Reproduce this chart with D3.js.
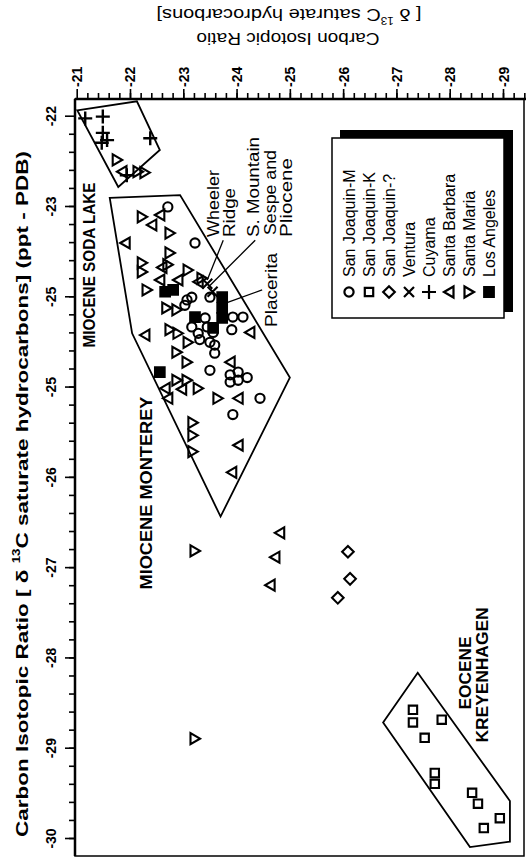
<!DOCTYPE html>
<html lang="en">
<head>
<meta charset="UTF-8">
<title>Carbon Isotopic Ratio</title>
<script src="https://cdnjs.cloudflare.com/ajax/libs/d3/7.8.5/d3.min.js"></script>
<style>
body{margin:0;background:#fff;}
svg{display:block;font-family:"Liberation Sans",Arial,Helvetica,sans-serif;}
.tick text{font-size:14px;font-weight:bold;fill:#000;}
.tick line{stroke:#000;stroke-width:1.6;}
</style>
</head>
<body>
<div id="chart"></div>
<script>
// axis ticks (left axis keeps the original's duplicated "-25")
var leftTicks = [-22,-23,-24,-25,-26,-27,-28,-29,-30];
var leftTickLabels = ['-22','-23','-25','-25','-26','-27','-28','-29','-30'];
var topTicks = [-21,-22,-23,-24,-25,-26,-27,-28,-29];
var topTickLabels = ['-21','-22','-23','-24','-25','-26','-27','-28','-29'];

// points: [left axis value, top axis value]
var sanJoaquinM = [[-23.01,-22.71],[-23.41,-23.22],[-24.04,-23.07],[-24.01,-23.16],[-24.01,-23.50],
  [-24.10,-23.03],[-24.24,-23.41],[-24.34,-23.45],[-24.34,-23.16],[-24.41,-23.28],[-24.23,-23.93],
  [-24.23,-24.12],[-24.37,-23.91],[-24.48,-23.31],[-24.51,-23.50],[-24.40,-23.56],[-24.54,-23.59],
  [-24.63,-23.59],[-24.82,-23.50],[-24.87,-23.88],[-24.84,-24.03],[-24.95,-23.88],[-24.93,-24.03],
  [-24.90,-24.20],[-25.13,-24.44],[-25.31,-23.93]];
var sanJoaquinK = [[-28.58,-27.31],[-28.72,-27.31],[-28.69,-27.85],[-28.89,-27.53],[-29.28,-27.72],
  [-29.40,-27.72],[-29.50,-28.42],[-29.62,-28.53],[-29.78,-28.94],[-29.89,-28.64]];
var sanJoaquinQ = [[-26.83,-26.09],[-27.13,-26.13],[-27.34,-25.90]];
var ventura = [[-23.86,-23.45],[-23.95,-23.55]];
var cuyama = [[-22.03,-21.16],[-22.01,-21.49],[-22.19,-21.49],[-22.27,-21.57],[-22.30,-21.47],
  [-22.25,-22.38],[-22.66,-21.94]];
var santaBarbara = [[-22.62,-21.85],[-23.21,-22.41],[-23.10,-22.56],[-23.41,-21.91],[-23.68,-22.60],
  [-23.82,-22.56],[-23.82,-22.90],[-23.84,-23.28],[-24.40,-24.25],[-24.43,-22.28],[-24.73,-23.88],
  [-25.02,-22.66],[-25.03,-22.97],[-25.13,-22.71],[-25.13,-24.03],[-25.65,-24.03],[-25.95,-23.91],
  [-26.62,-24.81],[-26.89,-24.72],[-27.20,-24.63]];
var santaMaria = [[-22.49,-21.76],[-22.62,-22.15],[-22.63,-22.28],[-23.12,-22.23],[-23.30,-22.75],
  [-23.52,-22.75],[-23.63,-22.23],[-23.73,-22.23],[-23.65,-22.71],[-23.71,-23.09],[-23.93,-22.32],
  [-23.80,-23.35],[-24.13,-22.69],[-24.15,-22.88],[-24.37,-22.75],[-24.41,-22.90],[-24.51,-23.09],
  [-24.62,-22.88],[-24.73,-23.07],[-24.93,-22.88],[-24.93,-23.07],[-25.02,-23.28],[-25.13,-23.65],
  [-25.40,-23.18],[-25.54,-23.18],[-25.72,-23.18],[-26.82,-23.22],[-28.90,-23.22]];
var losAngeles = [[-23.95,-22.66],[-23.93,-22.81],[-24.01,-23.73],[-24.23,-23.22],[-24.13,-23.73],
  [-24.24,-23.73],[-24.35,-23.56],[-24.84,-22.56]];

var seriesNames = ['San Joaquin-M','San Joaquin-K','San Joaquin-?','Ventura','Cuyama',
  'Santa Barbara','Santa Maria','Los Angeles'];
var seriesData = [sanJoaquinM, sanJoaquinK, sanJoaquinQ, ventura, cuyama, santaBarbara, santaMaria, losAngeles];
var seriesShapes = ['circle','square','diamond','x','plus','triLeft','triRight','filled'];

// field outlines
var sodaLake = [[-21.94,-21.01],[-21.84,-22.13],[-22.38,-22.56],[-22.79,-21.78]];
var monterey = [[-22.91,-21.62],[-22.88,-22.94],[-24.90,-25.00],[-26.44,-23.70],[-24.41,-22.04]];
var kreyenhagen = [[-28.17,-27.40],[-28.72,-26.75],[-30.10,-28.38],[-30.04,-29.13],[-29.59,-29.13]];

var width = 526, height = 858;
var frameLeft = 75, frameTop = 99, frameRight = 524, frameBottom = 856;

var svg = d3.select('#chart').append('svg')
  .attr('width', width)
  .attr('height', height);

var yScale = d3.scaleLinear().domain([-22,-30]).range([115.7, 838]);
var xScale = d3.scaleLinear().domain([-21,-29]).range([76.7, 503]);

var shapes = {
  circle: 'M-4.6,0A4.6,4.6,0,1,0,4.6,0A4.6,4.6,0,1,0,-4.6,0Z',
  square: 'M-4.2,-4.2H4.2V4.2H-4.2Z',
  diamond: 'M0,-5.8L5.8,0L0,5.8L-5.8,0Z',
  x: 'M-5,-5L5,5M5,-5L-5,5',
  plus: 'M-7,0H7M0,-7V7',
  triLeft: 'M-5,0L4.5,-5.5L4.5,5.5Z',
  triRight: 'M5,0L-4.5,-5.5L-4.5,5.5Z',
  filled: 'M-4.8,-4.8H4.8V4.8H-4.8Z'
};

// frame
svg.append('rect')
  .attr('x', frameLeft).attr('y', frameTop)
  .attr('width', frameRight - frameLeft).attr('height', frameBottom - frameTop)
  .attr('fill', 'none').attr('stroke', '#000').attr('stroke-width', 1.5);
svg.append('line')
  .attr('x1', frameLeft).attr('x2', frameLeft).attr('y1', frameTop).attr('y2', frameBottom)
  .attr('stroke', '#000').attr('stroke-width', 2.5);
svg.append('line')
  .attr('x1', frameLeft).attr('x2', width).attr('y1', frameTop).attr('y2', frameTop)
  .attr('stroke', '#000').attr('stroke-width', 2.5);

// top axis
var topAxis = svg.append('g')
  .attr('transform', 'translate(0,' + frameTop + ')')
  .call(d3.axisTop(xScale).tickValues(topTicks).tickSize(10)
    .tickFormat(function(d, i){ return topTickLabels[i]; }));
topAxis.select('.domain').remove();
topAxis.selectAll('.tick text')
  .attr('transform', 'rotate(-90)')
  .attr('x', 12).attr('y', 0).attr('dy', null)
  .attr('dominant-baseline', 'central')
  .attr('text-anchor', 'start');
svg.append('g')
  .attr('transform', 'translate(0,' + frameTop + ')')
  .call(d3.axisTop(xScale).tickValues(d3.range(-21.2, -29.45, -0.2)).tickSize(6).tickFormat(''))
  .call(function(g){ g.select('.domain').remove(); });

// left axis
var leftAxis = svg.append('g')
  .attr('transform', 'translate(' + frameLeft + ',0)')
  .call(d3.axisLeft(yScale).tickValues(leftTicks).tickSize(10)
    .tickFormat(function(d, i){ return leftTickLabels[i]; }));
leftAxis.select('.domain').remove();
leftAxis.selectAll('.tick text')
  .attr('transform', 'translate(-24,0) rotate(-90)')
  .attr('x', 0).attr('y', 0).attr('dy', null)
  .attr('dominant-baseline', 'central')
  .attr('text-anchor', 'middle');
svg.append('g')
  .attr('transform', 'translate(' + frameLeft + ',0)')
  .call(d3.axisLeft(yScale).tickValues(d3.range(-22.2, -30.1, -0.2)).tickSize(6).tickFormat(''))
  .call(function(g){ g.select('.domain').remove(); });

// axis titles
var leftTitle = svg.append('text')
  .attr('transform', 'translate(22,494) rotate(-90)')
  .attr('text-anchor', 'middle')
  .attr('dominant-baseline', 'central')
  .attr('font-size', 17)
  .attr('font-weight', 'bold')
  .attr('textLength', 686)
  .attr('lengthAdjust', 'spacingAndGlyphs');
leftTitle.append('tspan').text('Carbon Isotopic Ratio [ \u03b4  ');
leftTitle.append('tspan').attr('font-size', 10).attr('dy', -6).text('13');
leftTitle.append('tspan').attr('dy', 6).text('C saturate hydrocarbons] (ppt - PDB)');

svg.append('text')
  .attr('transform', 'translate(288,38) rotate(180)')
  .attr('text-anchor', 'middle')
  .attr('dominant-baseline', 'central')
  .attr('font-size', 17)
  .attr('textLength', 183)
  .attr('lengthAdjust', 'spacingAndGlyphs')
  .text('Carbon Isotopic Ratio');
var topTitle = svg.append('text')
  .attr('transform', 'translate(289,15) rotate(180)')
  .attr('text-anchor', 'middle')
  .attr('dominant-baseline', 'central')
  .attr('font-size', 17)
  .attr('textLength', 265)
  .attr('lengthAdjust', 'spacingAndGlyphs');
topTitle.append('tspan').text('[ \u03b4  ');
topTitle.append('tspan').attr('font-size', 10).attr('dy', -6).text('13');
topTitle.append('tspan').attr('dy', 6).text('C saturate hydrocarbons]');

// field outlines
var outline = d3.line()
  .x(function(d){ return xScale(d[1]); })
  .y(function(d){ return yScale(d[0]); });
[sodaLake, monterey, kreyenhagen].forEach(function(poly){
  svg.append('path')
    .attr('d', outline(poly) + 'Z')
    .attr('fill', 'none')
    .attr('stroke', '#000')
    .attr('stroke-width', 1.8);
});

// points
seriesData.forEach(function(data, i){
  var shape = seriesShapes[i];
  svg.append('g').selectAll('path')
    .data(data)
    .enter()
    .append('path')
    .attr('transform', function(d){ return 'translate(' + xScale(d[1]) + ',' + yScale(d[0]) + ')'; })
    .attr('d', shapes[shape])
    .attr('fill', shape == 'filled' ? '#000' : 'none')
    .attr('stroke', '#000')
    .attr('stroke-width', shape == 'plus' ? 2.4 : 2.1);
});

// pointer lines for the named fields
var pointers = [
  [[-23.38,-23.75],[-23.82,-23.45]],
  [[-23.38,-24.35],[-23.88,-23.50]],
  [[-23.93,-24.48],[-24.07,-23.82]]
];
pointers.forEach(function(p){
  svg.append('path')
    .attr('d', outline(p))
    .attr('stroke', '#000')
    .attr('stroke-width', 1.3)
    .attr('fill', 'none');
});

// rotated labels
function vlabel(txt, x, y, anchor, len, size, bold){
  svg.append('text')
    .attr('transform', 'translate(' + x + ',' + y + ') rotate(-90)')
    .attr('text-anchor', anchor)
    .attr('dominant-baseline', 'central')
    .attr('font-size', size)
    .attr('font-weight', bold ? 'bold' : 'normal')
    .attr('textLength', len)
    .attr('lengthAdjust', 'spacingAndGlyphs')
    .text(txt);
}
vlabel('MIOCENE SODA LAKE', 89, 265, 'middle', 165, 16, true);
vlabel('MIOCENE MONTEREY', 146, 493, 'middle', 193, 16, true);
vlabel('EOCENE', 465, 673, 'middle', 73, 16, true);
vlabel('KREYENHAGEN', 482, 675, 'middle', 135, 16, true);
vlabel('Wheeler', 213, 237, 'start', 67, 17, false);
vlabel('Ridge', 229, 237, 'start', 49, 17, false);
vlabel('S. Mountain', 253, 237, 'start', 100, 17, false);
vlabel('Sespe and', 270, 235, 'start', 85, 17, false);
vlabel('Pliocene', 286, 237, 'start', 79, 17, false);
vlabel('Placerita', 271, 327, 'start', 74, 17, false);

// legend
var legend = svg.append('g');
legend.append('rect')
  .attr('x', 340).attr('y', 130).attr('width', 173).attr('height', 182)
  .attr('fill', '#000');
legend.append('rect')
  .attr('x', 332).attr('y', 138).attr('width', 172).attr('height', 180)
  .attr('fill', '#fff').attr('stroke', '#000').attr('stroke-width', 1.5);
var entries = legend.selectAll('g.entry')
  .data(seriesNames)
  .enter()
  .append('g')
  .attr('class', 'entry')
  .attr('transform', function(d, i){ return 'translate(' + (349 + i * 20) + ',0)'; });
entries.append('path')
  .attr('transform', 'translate(0,292)')
  .attr('d', function(d, i){ return shapes[seriesShapes[i]]; })
  .attr('fill', function(d, i){ return seriesShapes[i] == 'filled' ? '#000' : 'none'; })
  .attr('stroke', '#000')
  .attr('stroke-width', 2.2);
entries.append('text')
  .attr('transform', 'translate(0,277) rotate(-90)')
  .attr('dominant-baseline', 'central')
  .attr('font-size', 16)
  .text(function(d){ return d; });
</script>
</body>
</html>
